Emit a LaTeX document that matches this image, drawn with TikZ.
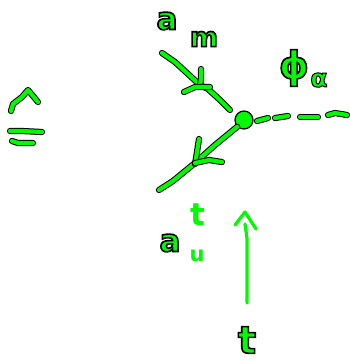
\documentclass[tikz,border=0pt]{standalone}
\usepackage{fontspec}
\setmainfont{DejaVu Sans}
\definecolor{ink}{RGB}{0,250,0}
\newcommand{\outl}[2][1.6]{\special{pdf:code 2 Tr #1 w 0 0 0 RG}#2\special{pdf:code 0 Tr}}
\newcommand{\inked}[1]{\draw[black,line width=6.2pt,line cap=round,line join=round] #1;\draw[ink,line width=4.2pt,line cap=round,line join=round] #1;}
\tikzset{
  thin ink/.style={draw=ink,line width=3.2pt,line cap=round,line join=round},
  lab/.style={text=ink,inner sep=0pt,font=\bfseries}
}
\begin{document}
\begin{tikzpicture}[x=1pt,y=-1pt]
\useasboundingbox (0,0) rectangle (349,362);
% hat and equals
\inked{(11,111) -- (13,104) -- (22,97) -- (28,90) -- (33,96) -- (38,102)}
\inked{(10,131) -- (22,131) -- (42,132)}
\inked{(12,141) -- (18,143) -- (33,143)}
% top line
\inked{(162,53) -- (175,62) -- (200,85) -- (208,89) -- (220,100) -- (230,110)}
\inked{(201,69) -- (201,78) -- (200,86)}
\inked{(184,92) -- (195,87) -- (210,87)}
% vertex
\node[circle,draw=black,fill=ink,line width=1.2pt,minimum size=18pt,inner sep=0pt] (v) at (244,120) {};
% lower line
\inked{(v.south west) -- (215,145) -- (195,163) -- (173,181) -- (159,190)}
\inked{(199,139) -- (197,152) -- (195,164)}
\inked{(195,163) -- (209,160) -- (222,162)}
% dashes
\coordinate (d1) at (257,121);
\inked{(d1) -- (268,118)}
\inked{(275,118) -- (288,116)}
\inked{(300,117) -- (318,117)}
\inked{(328,115) -- (335,113) -- (347,115)}
% momentum arrow
\coordinate (tb) at (247,303);
\coordinate (tt) at (245,224);
\draw[thin ink] (tb) -- (247,238) -- (tt);
\draw[thin ink] (235,225) -- (245,212) -- (256,229);
% labels
\node[lab,font=\bfseries\fontsize{31}{31}\selectfont] (am) at (167,21) {\outl{a}};
\node[lab,font=\bfseries\fontsize{27}{27}\selectfont] (m) at (204,39) {\outl{m}};
\node[lab,font=\bfseries\fontsize{38}{38}\selectfont] (phi) at (294,68) {\outl{ϕ}};
\node[lab,font=\bfseries\fontsize{25}{25}\selectfont] (al) at (319,80) {\outl[1]{α}};
\node[lab,font=\bfseries\fontsize{31}{31}\selectfont] (ts) at (198,215) {t};
\node[lab,font=\bfseries\fontsize{31}{31}\selectfont] (au) at (170,243) {\outl{a}};
\node[lab,font=\bfseries\fontsize{21}{21}\selectfont] (u) at (197,256) {u};
\node[lab,font=\bfseries\fontsize{38}{38}\selectfont] (tl) at (247,340) {\outl{t}};
\end{tikzpicture}
\end{document}
